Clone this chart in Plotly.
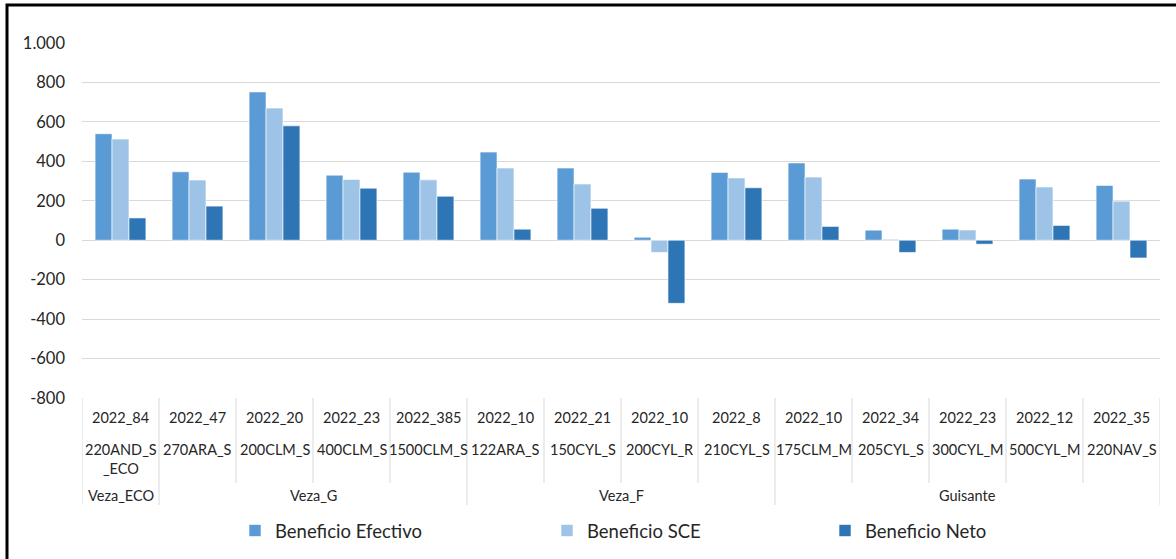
import plotly.graph_objects as go

# ---- data ----
years = ["2022_84", "2022_47", "2022_20", "2022_23", "2022_385", "2022_10", "2022_21",
         "2022_10", "2022_8", "2022_10", "2022_34", "2022_23", "2022_12", "2022_35"]
codes = ["220AND_S<br>_ECO", "270ARA_S", "200CLM_S", "400CLM_S", "1500CLM_S", "122ARA_S",
         "150CYL_S", "200CYL_R", "210CYL_S", "175CLM_M", "205CYL_S", "300CYL_M",
         "500CYL_M", "220NAV_S"]
groups = ["Veza_ECO", "Veza_G", "Veza_F", "Guisante"]
group_sizes = [1, 4, 4, 5]

efectivo = [540, 347, 752, 330, 345, 447, 366, 15, 344, 392, 51, 56, 310, 278]
sce = [513, 305, 670, 308, 306, 366, 285, -62, 316, 320, 5, 52, 270, 198]
neto = [113, 173, 580, 264, 223, 56, 162, -320, 266, 70, -62, -20, 75, -90]

y_ticks = [-800, -600, -400, -200, 0, 200, 400, 600, 800, 1000]
y_ticktext = ["-800", "-600", "-400", "-200", "0", "200", "400", "600", "800", "1.000"]

W, H = 1176, 559
L, R, T, B = 82, 16, 43, 161
PLOT_H = H - T - B
FONT = "Lato, 'Noto Sans', sans-serif"
GRID = "#D9D9D9"
TXT = "#262626"


def py(pixel_y):
    """pixel row in the page -> paper y of the plot area"""
    return (H - B - pixel_y) / PLOT_H


x = list(range(len(years)))
fig = go.Figure()
for name, vals, color, leg in [
    ("Beneficio Efectivo", efectivo, "#5B9BD5", "legend"),
    ("Beneficio SCE", sce, "#9DC3E6", "legend2"),
    ("Beneficio Neto", neto, "#2E75B6", "legend3"),
]:
    fig.add_trace(go.Bar(
        x=x, y=vals, name=name, legend=leg,
        marker=dict(color=color, line=dict(color="rgba(255,255,255,0.6)", width=1)),
    ))

lab_font = dict(size=14.5, color=TXT, family=FONT)
annotations = []
for i, (yr, cd) in enumerate(zip(years, codes)):
    annotations.append(dict(x=i, y=py(417), xref="x", yref="paper", text=yr,
                            showarrow=False, yanchor="middle", font=lab_font))
    annotations.append(dict(x=i, y=py(439), xref="x", yref="paper", text=cd,
                            showarrow=False, yanchor="top", font=lab_font))

shapes = []
start = 0
bounds = [-0.5]
for g, n in zip(groups, group_sizes):
    annotations.append(dict(x=start + (n - 1) / 2, y=py(495), xref="x", yref="paper",
                            text=g, showarrow=False, yanchor="middle", font=lab_font))
    start += n
    bounds.append(start - 0.5)

for k in range(len(years) + 1):
    b = k - 0.5
    bottom = 505 if b in bounds else 483
    shapes.append(dict(type="line", xref="x", yref="paper", x0=b, x1=b,
                       y0=py(398), y1=py(bottom), line=dict(color=GRID, width=1)))

# outer chart border (clipped by the page on the right and bottom)
shapes.append(dict(type="rect", xref="paper", yref="paper",
                   x0=(7 - L) / (W - L - R), x1=(W + 10 - L) / (W - L - R),
                   y0=py(H + 10), y1=py(5),
                   line=dict(color="black", width=3), layer="above"))

fig.update_layout(
    width=W, height=H,
    margin=dict(l=L, r=R, t=T, b=B),
    plot_bgcolor="white", paper_bgcolor="white",
    separators=",.",
    barmode="group", bargap=0.34, bargroupgap=0,
    font=dict(family=FONT, color=TXT),
    xaxis=dict(range=[-0.5, len(years) - 0.5], showticklabels=False,
               showgrid=False, zeroline=False, showline=False, fixedrange=True),
    yaxis=dict(range=[-800, 1000], tickvals=y_ticks, ticktext=y_ticktext,
               showgrid=True, gridcolor=GRID, gridwidth=1,
               zeroline=True, zerolinecolor=GRID, zerolinewidth=1,
               showline=False, ticks="", ticklabelstandoff=16,
               tickfont=dict(size=16.5, color=TXT, family=FONT)),
    annotations=annotations,
    shapes=shapes,
    showlegend=True,
)

leg_font = dict(size=18.5, color=TXT, family=FONT)
for key, px_left in [("legend", 235), ("legend2", 547), ("legend3", 825)]:
    fig.layout[key] = dict(xref="container", yref="container", x=px_left / W,
                           y=1 - 531 / H, xanchor="left", yanchor="middle",
                           orientation="h", font=leg_font, bgcolor="rgba(0,0,0,0)")

fig.write_html("out.html", config={"displayModeBar": False},
               post_script="document.body.style.margin='0px';")
